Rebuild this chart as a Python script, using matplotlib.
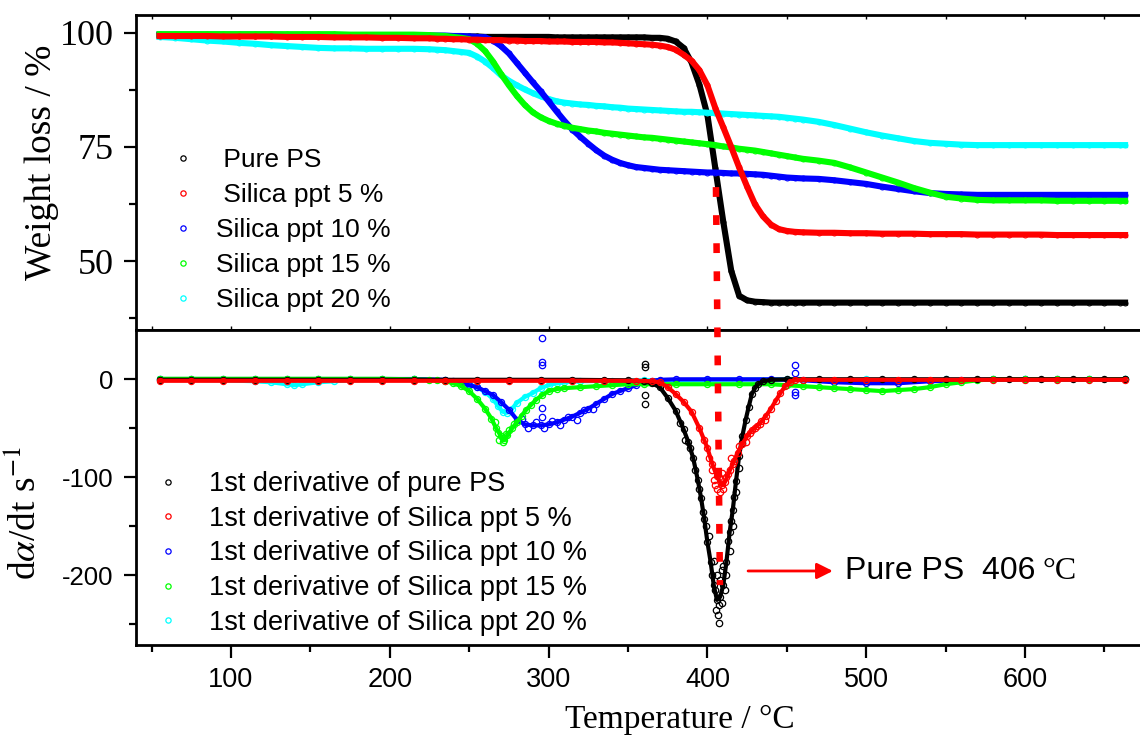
import matplotlib
matplotlib.use("Agg")
import matplotlib.pyplot as plt
from matplotlib.lines import Line2D

plt.rcParams['font.family'] = ['Liberation Sans', 'DejaVu Sans']
plt.rcParams['mathtext.fontset'] = 'stix'
plt.rcParams['axes.unicode_minus'] = False

# ---------------- data: TGA weight curves ----------------
T_TOP = [55, 65, 75, 85, 95, 105, 115, 125, 135, 145, 155, 165, 175, 185, 195, 205, 215, 225,
         230, 235, 240, 245, 250, 255, 260, 265, 270, 275, 280, 285, 290, 295, 300, 305, 310,
         315, 320, 325, 330, 335, 340, 345, 350, 355, 360,
         365, 370, 375, 380, 385, 390, 395, 400, 405, 410, 415, 420, 425, 430, 435, 440, 445,
         450, 455, 460,
         470, 480, 490, 500, 510, 520, 530, 540, 550, 560, 570, 580, 590, 600, 610, 620, 630,
         640, 650, 660, 663]

W_PS = [99.5, 99.5, 99.5, 99.5, 99.5, 99.4, 99.4, 99.4, 99.4, 99.4, 99.3, 99.3, 99.3, 99.3, 99.3, 99.3, 99.2, 99.2,
        99.2, 99.2, 99.2, 99.2, 99.2, 99.2, 99.1, 99.1, 99.1, 99.1, 99.1, 99.1, 99.1, 99.1, 99.1, 99.0, 99.0,
        99.0, 99.0, 99.0, 99.0, 99.0, 99.0, 99.0, 99.0, 99.0, 99.0,
        98.9, 98.9, 98.7, 98.1, 96.7, 93.5, 88.6, 82.0, 70.3, 58.6, 47.9, 42.4, 41.4, 41.1, 41.0, 40.9, 40.9,
        40.9, 40.9, 40.9,
        40.9, 40.9, 40.9, 40.9, 40.9, 40.9, 40.9, 40.9, 40.9, 40.9, 40.9, 40.9, 40.9, 40.9, 40.9, 40.9, 40.9,
        40.9, 40.9, 40.9, 40.9]

W_5 = [99.3, 99.3, 99.3, 99.3, 99.2, 99.2, 99.2, 99.2, 99.1, 99.1, 99.1, 99.0, 99.0, 99.0, 98.9, 98.9, 98.8, 98.8,
       98.7, 98.7, 98.6, 98.6, 98.5, 98.5, 98.4, 98.4, 98.4, 98.3, 98.3, 98.2, 98.2, 98.2, 98.1, 98.1, 98.1,
       98.0, 98.0, 98.0, 98.0, 97.9, 97.9, 97.8, 97.7, 97.6, 97.5,
       97.4, 97.2, 96.9, 96.3, 95.2, 93.9, 91.8, 88.5, 83.5, 79.3, 75.0, 70.5, 66.3, 62.4, 59.8, 58.0, 57.0,
       56.6, 56.4, 56.3,
       56.2, 56.2, 56.1, 56.1, 56.0, 56.0, 56.0, 55.9, 55.9, 55.9, 55.8, 55.8, 55.8, 55.8, 55.8, 55.7, 55.7,
       55.7, 55.7, 55.7, 55.7]

W_10 = [99.6, 99.6, 99.6, 99.6, 99.6, 99.6, 99.6, 99.6, 99.5, 99.5, 99.5, 99.5, 99.5, 99.5, 99.4, 99.4, 99.4, 99.4,
        99.4, 99.4, 99.3, 99.3, 99.2, 99.1, 99.0, 98.3, 97.1, 95.5, 93.4, 91.3, 89.2, 87.2, 85.0, 82.8, 80.7,
        78.8, 77.2, 75.7, 74.3, 73.1, 72.2, 71.5, 71.0, 70.6, 70.4,
        70.2, 70.0, 69.9, 69.8, 69.7, 69.6, 69.5, 69.4, 69.4, 69.3, 69.2, 69.2, 69.1, 69.0, 68.9, 68.7, 68.5,
        68.3, 68.2, 68.1,
        68.0, 67.7, 67.3, 66.9, 66.3, 65.8, 65.3, 64.9, 64.7, 64.6, 64.5, 64.5, 64.5, 64.5, 64.5, 64.5, 64.5,
        64.5, 64.5, 64.5, 64.5]

W_15 = [99.7, 99.7, 99.7, 99.7, 99.7, 99.7, 99.7, 99.7, 99.7, 99.7, 99.7, 99.7, 99.6, 99.6, 99.6, 99.6, 99.6, 99.5,
        99.4, 99.3, 99.1, 98.9, 98.6, 97.6, 96.0, 93.7, 91.0, 88.5, 86.2, 84.2, 82.6, 81.5, 80.7, 80.1, 79.6,
        79.2, 78.9, 78.6, 78.4, 78.1, 77.9, 77.7, 77.5, 77.3, 77.1,
        77.0, 76.8, 76.6, 76.4, 76.2, 76.0, 75.8, 75.6, 75.4, 75.1, 74.9, 74.6, 74.4, 74.2, 73.9, 73.6, 73.3,
        73.0, 72.7, 72.4,
        72.0, 71.5, 70.5, 69.4, 68.3, 67.2, 66.0, 65.0, 64.1, 63.7, 63.4, 63.3, 63.3, 63.3, 63.3, 63.2, 63.2,
        63.2, 63.2, 63.2, 63.2]

W_20 = [99.1, 98.9, 98.6, 98.3, 98.1, 97.8, 97.6, 97.3, 97.1, 96.9, 96.7, 96.6, 96.6, 96.5, 96.5, 96.5, 96.5, 96.4,
        96.3, 96.2, 96.0, 95.8, 95.6, 94.8, 93.7, 92.3, 90.7, 89.5, 88.5, 87.6, 86.8, 86.1, 85.5, 85.0, 84.7,
        84.5, 84.3, 84.2, 84.0, 83.9, 83.7, 83.6, 83.4, 83.3, 83.2,
        83.1, 83.0, 82.9, 82.8, 82.7, 82.7, 82.6, 82.5, 82.4, 82.3, 82.2, 82.1, 82.0, 81.9, 81.8, 81.7, 81.6,
        81.4, 81.2, 81.0,
        80.5, 79.8, 79.0, 78.2, 77.5, 76.9, 76.3, 75.9, 75.7, 75.5, 75.4, 75.4, 75.4, 75.4, 75.4, 75.4, 75.4,
        75.4, 75.4, 75.4, 75.4]

# ---------------- data: first derivative curves ----------------
D_PS_T = [55, 75, 95, 115, 135, 155, 175, 195, 215, 235, 255, 275, 295, 315, 335, 350, 360, 365, 370, 375,
          380, 385, 388, 391, 394, 396, 398, 400, 402, 404, 406, 408, 410, 412, 414, 416, 418, 420, 422,
          424, 426, 428, 430, 432, 435, 440, 450, 470, 490, 510, 530, 550, 570, 590, 610, 630, 650, 663]
D_PS = [-0.5, -0.5, -0.5, -0.5, -0.5, -0.5, -0.5, -0.5, -0.5, -0.5, -0.5, -0.5, -0.5, -0.5, -0.8, -1.0, -2, -4, -8, -19,
        -32, -51, -64, -80, -103, -121, -142, -166, -186, -210, -225, -222, -210, -186, -156, -133, -104, -78, -58,
        -42, -28, -15, -9, -5, -2, -0.5, 0, 0, 0, 0, 0, 0, 0, 0, 0, 0, 0, 0]
D_PS_SC_T = [360.7, 360.7, 360.7, 360.7, 383, 386, 389, 392, 395, 397, 399, 401, 403, 404, 405, 405.5, 406,
             406.5, 407.3, 407.5, 408, 409, 409.5, 410, 411, 412, 413, 414, 415, 416, 417, 418, 420, 422]
D_PS_SC = [16, 12.5, -16, -25, -45, -62, -70, -92, -112, -135, -150, -160, -200, -185, -215, -235, -200,
           -240, -249, -230, -205, -195, -228, -190, -215, -200, -165, -175, -145, -150, -120, -115, -90, -65]

D_5_T = [55, 75, 95, 115, 135, 155, 175, 195, 215, 235, 255, 275, 295, 315, 335, 355, 365, 370, 375, 380,
         385, 390, 395, 400, 403, 406, 409, 411, 413, 416, 419, 422, 425, 428, 431, 434, 437, 440, 443, 446,
         449, 452, 455, 460, 480, 500, 520, 540, 560, 580, 600, 620, 640, 663]
D_5 = [-1.5, -1.5, -1.5, -1.5, -1.5, -1.5, -1.5, -1.5, -1.5, -1.5, -1.5, -1.5, -1.5, -1.5, -1.5, -1.5, -2, -3, -8, -15,
       -23, -33, -50, -70, -86, -99, -108, -105, -97, -86, -75, -66, -58, -52, -48, -43, -37, -30, -22, -14,
       -7, -3, -1, -0.5, -0.5, -0.5, -0.5, -0.5, -0.5, -0.5, -0.5, -0.5, -0.5, -0.5]
D_5_SC_T = [398, 401, 403, 404, 405, 406, 407, 408, 409, 410, 412, 414, 415, 417, 420, 424, 427, 430, 433, 436]
D_5_SC = [-62, -80, -93, -103, -108, -112, -100, -115, -96, -112, -100, -92, -80, -83, -68, -64, -55, -50, -46, -41]

D_10_T = [55, 75, 95, 115, 135, 155, 175, 195, 215, 235, 240, 245, 250, 255, 260, 265, 270, 275, 280, 285,
          290, 295, 300, 305, 310, 315, 320, 325, 330, 335, 340, 345, 350, 355, 360, 365, 370, 380, 400, 420,
          440, 460, 480, 500, 520, 540, 560, 580, 600, 620, 640, 663]
D_10 = [0.3, 0.3, 0.3, 0.3, 0.3, 0.3, 0.3, 0.3, 0.3, -0.5, -2, -4, -6, -8, -12, -16, -23, -31, -41, -46,
        -47, -47, -46, -44, -41, -38, -34, -30, -25, -20, -15, -12, -9, -6, -3, -1.5, -0.5, 0, 0, 0,
        0, -1, -3, -4, -4, -2, -1, 0, 0, 0, 0, 0]
D_10_SC_T = [283, 287, 292, 297, 302, 307, 312, 318, 322, 328, 295.6, 295.6, 295.6, 295.6, 295.6, 455, 455, 455, 455]
D_10_SC = [-40, -50, -44, -50, -43, -47, -38, -42, -31, -30, 42, 18, 14.6, -29, -38, 14.6, 6.6, -13, -16]

D_15_T = [55, 75, 95, 115, 135, 155, 175, 195, 215, 225, 230, 235, 240, 245, 250, 255, 260, 264, 267, 270,
          272, 274, 277, 280, 283, 286, 289, 292, 296, 300, 305, 310, 320, 330, 340, 350, 360, 380, 400, 420,
          440, 450, 460, 470, 480, 490, 500, 510, 520, 530, 540, 550, 560, 570, 580, 600, 620, 640, 663]
D_15 = [0.5, 0.5, 0.5, 0.5, 0.5, 0.5, 0.5, 0.5, 0, -0.5, -1, -2, -4, -7, -12, -20, -30, -40, -50, -58,
        -62, -57, -50, -44, -37, -31, -26, -21, -16, -12, -10, -9, -8, -7, -6, -5, -5, -5, -5, -5,
        -5, -6, -7, -8, -9, -10, -11, -12, -11, -10, -8, -5, -3, -1, 0, 0, 0, 0, 0]
D_15_SC_T = [266, 268, 269, 271, 273, 275, 278, 271.5]
D_15_SC = [-44, -55, -62, -60, -56, -52, -46, -64]

D_20_T = [55, 75, 95, 115, 125, 135, 140, 145, 155, 165, 175, 195, 215, 235, 245, 250, 255, 260, 265, 268,
          271, 274, 277, 280, 285, 290, 295, 300, 305, 310, 320, 340, 360, 400, 450, 500, 550, 600, 663]
D_20 = [0, -0.5, -1, -2, -3, -5, -6, -5, -3, -2, -1, -0.5, 0, -1, -3, -5, -8, -13, -20, -27,
        -33, -34, -30, -24, -18, -14, -9, -6, -4, -3, -2, -1.5, -1, -0.5, 0, 0, 0, 0, 0]

COLORS = ['#000000', '#ff0000', '#0000ff', '#00ff00', '#00ffff']
TOP_LABELS = [' Pure PS', ' Silica ppt 5 %', 'Silica ppt 10 %', 'Silica ppt 15 %', 'Silica ppt 20 %']
BOT_LABELS = ['1st derivative of pure PS', '1st derivative of Silica ppt 5 %',
              '1st derivative of Silica ppt 10 %', '1st derivative of Silica ppt 15 %',
              '1st derivative of Silica ppt 20 %']
X_MAJOR = [100, 200, 300, 400, 500, 600]
X_MINOR = [50, 150, 250, 350, 450, 550, 650]

# ---------------- figure ----------------
fig = plt.figure(figsize=(11.4, 7.44), dpi=100)
L = 136 / 1140
W = 1 - L
ax1 = fig.add_axes([L, 1 - 330 / 744, W, 315 / 744])
ax2 = fig.add_axes([L, 1 - 645 / 744, W, 315 / 744])

XLIM = (40.2, 672.4)
ax1.set_xlim(*XLIM)
ax2.set_xlim(*XLIM)
ax1.set_ylim(34.9, 103.9)
ax2.set_ylim(-271.0, 50.3)

top_series = [W_PS, W_5, W_10, W_15, W_20]
top_order = [0, 4, 2, 3, 1]
for k, i in enumerate(top_order):
    c = COLORS[i]
    ax1.plot(T_TOP, top_series[i], color=c, lw=4.4, marker='o', ms=3.6, mfc='none',
             mec=c, mew=0.7, zorder=2 + k, solid_joinstyle='round')

bot_series = [(D_PS_T, D_PS), (D_5_T, D_5), (D_10_T, D_10), (D_15_T, D_15), (D_20_T, D_20)]
bot_scatter = {0: (D_PS_SC_T, D_PS_SC), 1: (D_5_SC_T, D_5_SC), 2: (D_10_SC_T, D_10_SC),
               3: (D_15_SC_T, D_15_SC)}
bot_order = [4, 2, 3, 0, 1]
for k, i in enumerate(bot_order):
    c = COLORS[i]
    tx, dy = bot_series[i]
    ax2.plot(tx, dy, color=c, lw=3.0, marker='o', ms=4.4, mfc='none', mec=c, mew=0.9, zorder=2 + k,
             solid_joinstyle='round')
    if i in bot_scatter:
        sx, sy = bot_scatter[i]
        ax2.plot(sx, sy, ls='none', marker='o', ms=4.6, mfc='none', mec=c, mew=0.9, zorder=2 + k)

# spines & ticks
for ax in (ax1, ax2):
    ax.spines['right'].set_visible(False)
    for s in ('left', 'top', 'bottom'):
        ax.spines[s].set_linewidth(2.0)

ax1.set_xticks(X_MAJOR + X_MINOR)
ax1.tick_params(axis='x', which='both', direction='in', length=3, width=1.0, top=True, bottom=True,
                labelbottom=False, labeltop=False)
ax1.set_yticks([50, 75, 100])
ax1.set_yticks([37.5, 62.5, 87.5], minor=True)
ax1.tick_params(axis='y', which='major', direction='out', length=9, width=1.6, pad=7, labelsize=26)
ax1.tick_params(axis='y', which='minor', direction='out', length=5, width=1.6)
for lab in ax1.get_yticklabels():
    lab.set_family('Liberation Serif')

ax2.set_xticks(X_MAJOR)
ax2.set_xticks(X_MINOR, minor=True)
ax2.tick_params(axis='x', which='major', direction='out', length=9, width=1.6, pad=7, labelsize=19.5)
ax2.tick_params(axis='x', which='minor', direction='out', length=5, width=1.6)
ax2.set_yticks([0, -100, -200])
ax2.set_yticks([-50, -150, -250], minor=True)
ax2.tick_params(axis='y', which='major', direction='out', length=9, width=1.6, pad=7, labelsize=18.5)
ax2.tick_params(axis='y', which='minor', direction='out', length=5, width=1.6)

# legends
def handles():
    return [Line2D([], [], ls='none', marker='o', ms=3.8, mfc='none', mec=c, mew=0.9) for c in COLORS]

ax1.legend(handles(), TOP_LABELS, loc='upper left', bbox_to_anchor=(0.034, 0.578), frameon=False,
           prop={'family': 'Liberation Sans', 'size': 19}, labelspacing=0.42, handlelength=1.0,
           handletextpad=0.73, borderpad=0, borderaxespad=0)
ax2.legend(handles(), BOT_LABELS, loc='upper left', bbox_to_anchor=(0.0187, 0.552), frameon=False,
           prop={'family': 'Liberation Sans', 'size': 19.5}, labelspacing=0.32, handlelength=1.0,
           handletextpad=1.0, borderpad=0, borderaxespad=0)

# axis titles
fig.text(42 / 1140, 1 - 162 / 744, 'Weight loss / %', rotation=90, ha='center', va='center',
         family='Liberation Serif', fontsize=27)
fig.text(26 / 1140, 1 - 513 / 744, r'd$\alpha$/dt s$^{-1}$', rotation=90, ha='center', va='center',
         family='Liberation Serif', fontsize=27)
fig.text(680 / 1140, 1 - 720 / 744, 'Temperature / °C', ha='center', va='center',
         family='Liberation Serif', fontsize=24)

# annotation arrow + text
ax2.annotate('', xy=(479.0, -195.5), xytext=(425.6, -195.5),
             arrowprops=dict(arrowstyle='-|>', color='red', lw=2.0, mutation_scale=24,
                             shrinkA=0, shrinkB=0), zorder=12)
t1 = ax2.text(486.5, -196, 'Pure PS  406', ha='left', va='center', fontsize=23,
              family='Liberation Sans', zorder=12)
ax2.annotate('°C', xy=(1, 0.5), xycoords=t1, xytext=(5, 0), textcoords='offset points',
             ha='left', va='center', fontsize=23, family='Liberation Serif', zorder=12)

# red dashed marker line across both panels
def to_fig(ax, x, y):
    return fig.transFigure.inverted().transform(ax.transData.transform((x, y)))

p1 = to_fig(ax1, 405.4, 66.2)
p2 = to_fig(ax2, 407.9, -209.9)
fig.add_artist(Line2D([p1[0], p2[0]], [p1[1], p2[1]], transform=fig.transFigure, color='red',
                      lw=4.7, linestyle=(0, (1.5, 2.8)), dash_capstyle='butt', zorder=20))

fig.savefig('out.png', dpi=100)
